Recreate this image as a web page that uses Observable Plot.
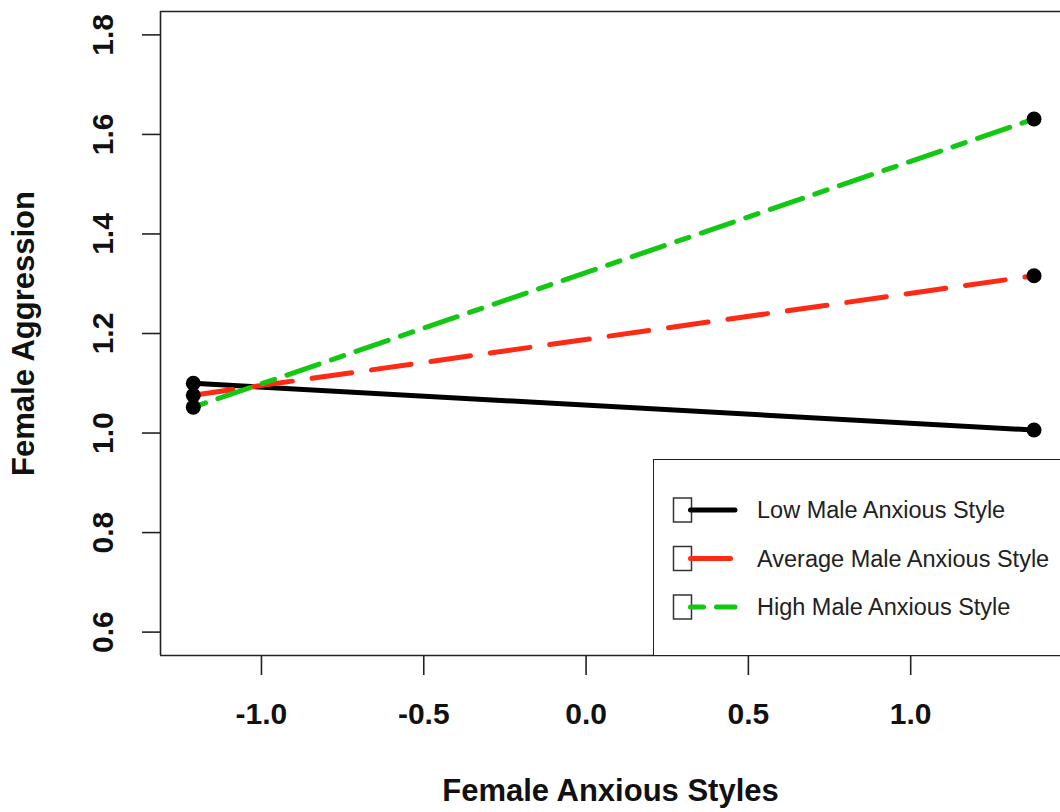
<!DOCTYPE html>
<html><head><meta charset="utf-8">
<script src="https://cdn.jsdelivr.net/npm/d3@7"></script>
<script src="https://cdn.jsdelivr.net/npm/@observablehq/plot@0.6"></script>
<style>
body{margin:0;background:#fff;}
#wrap{position:relative;width:1060px;height:812px;overflow:hidden;background:#fff;}
#legend{position:absolute;left:653px;top:459px;width:430px;height:197px;border:1.5px solid #222;background:#fff;box-sizing:border-box;}
#legend svg{position:absolute;left:-1.5px;top:-1.5px;overflow:visible;}
</style></head><body><div id="wrap"><div id="chart"></div><div id="legend"></div></div>
<script>
// ---- data ----
const xPoints = [-1.21, 1.38];
const lowMale = [1.100, 1.006];
const avgMale = [1.076, 1.316];
const highMale = [1.052, 1.631];
const seriesNames = ["Low Male Anxious Style", "Average Male Anxious Style", "High Male Anxious Style"];
const seriesColors = ["#000000", "#ff2a14", "#12c812"];
const seriesDash = ["none", "40,20", "13,13,34,13"];
const xTicks = [-1.0, -0.5, 0.0, 0.5, 1.0];
const yTicks = [0.6, 0.8, 1.0, 1.2, 1.4, 1.6, 1.8];
const xTitle = "Female Anxious Styles";
const yTitle = "Female Aggression";

const xDomain = [-1.311, 1.4615];
const yDomain = [0.553, 1.847];

const seriesValues = [lowMale, avgMale, highMale];
const rows = seriesValues.map((vals, i) => xPoints.map((x, j) => ({series: seriesNames[i], x, y: vals[j]})));

const font = "'Liberation Sans', Arial, Helvetica, sans-serif";

const chart = Plot.plot({
  width: 1060, height: 812,
  marginLeft: 160, marginRight: 0, marginTop: 11, marginBottom: 157,
  x: {domain: xDomain},
  y: {domain: yDomain},
  style: {fontFamily: font, background: "white", color: "#111"},
  marks: [
    Plot.ruleX([xDomain[0]], {stroke: "#222", strokeWidth: 1.6}),
    Plot.ruleY(yDomain, {stroke: "#222", strokeWidth: 1.6}),
    Plot.axisX({ticks: xTicks, tickSize: 20, tickFormat: () => "", stroke: "#222", strokeWidth: 1.6, label: null}),
    Plot.axisY({ticks: yTicks, tickSize: 18, tickFormat: () => "", stroke: "#222", strokeWidth: 1.6, label: null}),
    Plot.text(xTicks, {x: d => d, frameAnchor: "bottom", dy: 59, text: d => d.toFixed(1), fontSize: 30, fontWeight: "bold", lineAnchor: "middle", fill: "#111"}),
    Plot.text(yTicks, {y: d => d, frameAnchor: "left", dx: -57, rotate: -90, text: d => d.toFixed(1), fontSize: 30, fontWeight: "bold", lineAnchor: "middle", textAnchor: "middle", fill: "#111"}),
    Plot.text([xTitle], {frameAnchor: "bottom", dy: 136, fontSize: 31, fontWeight: "bold", lineAnchor: "middle", textAnchor: "middle", fill: "#111"}),
    Plot.text([yTitle], {frameAnchor: "left", dx: -136, rotate: -90, fontSize: 31, fontWeight: "bold", lineAnchor: "middle", textAnchor: "middle", fill: "#111"}),
    ...rows.map((r, i) => Plot.line(r, {x: "x", y: "y", stroke: seriesColors[i], strokeWidth: 5, strokeDasharray: seriesDash[i], strokeLinecap: "round"})),
    Plot.dot(rows.flat(), {x: "x", y: "y", r: 7.5, fill: "#000", stroke: "none"})
  ]
});
document.getElementById("chart").appendChild(chart);

// ---- legend ----
const ns = "http://www.w3.org/2000/svg";
const lsvg = document.createElementNS(ns, "svg");
lsvg.setAttribute("width", 430); lsvg.setAttribute("height", 197);
lsvg.style.fontFamily = font;
seriesNames.forEach((name, i) => {
  const cy = 51 + i * 48.5;
  const rect = document.createElementNS(ns, "rect");
  rect.setAttribute("x", 20.5); rect.setAttribute("y", cy - 12);
  rect.setAttribute("width", 18); rect.setAttribute("height", 24);
  rect.setAttribute("fill", "white"); rect.setAttribute("stroke", "#333"); rect.setAttribute("stroke-width", 1.5);
  lsvg.appendChild(rect);
  const line = document.createElementNS(ns, "line");
  line.setAttribute("x1", 37.5); line.setAttribute("x2", 82);
  line.setAttribute("y1", cy); line.setAttribute("y2", cy);
  line.setAttribute("stroke", seriesColors[i]); line.setAttribute("stroke-width", 5);
  line.setAttribute("stroke-linecap", "round");
  if (seriesDash[i] !== "none") line.setAttribute("stroke-dasharray", seriesDash[i]);
  lsvg.appendChild(line);
  const t = document.createElementNS(ns, "text");
  t.setAttribute("x", 104); t.setAttribute("y", cy);
  t.setAttribute("dy", "0.35em");
  t.setAttribute("font-size", 23.5); t.setAttribute("fill", "#222");
  t.textContent = name;
  lsvg.appendChild(t);
});
document.getElementById("legend").appendChild(lsvg);
</script></body></html>
